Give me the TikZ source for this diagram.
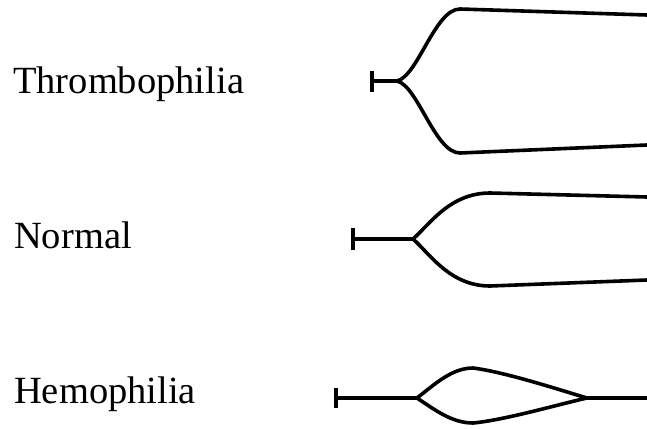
\documentclass[tikz,border=0pt]{standalone}
\usepackage{fontspec}
\setmainfont{Liberation Serif}
\begin{document}
\begin{tikzpicture}[x=1pt,y=-1pt,
  lbl/.style={anchor=base west,inner sep=0pt,font=\fontsize{38.5}{40}\selectfont},
  vessel/.style={line width=3.6pt,line cap=round,line join=round},
  tbar/.style={line width=4.5pt}]
\useasboundingbox (0,0) rectangle (647,428);
% labels
\node[lbl] (t) at (13,93) {Thrombophilia};
\node[lbl] (n) at (14,248) {Normal};
\node[lbl] (h) at (14,403) {Hemophilia};
% Thrombophilia
\coordinate (t0) at (372,81);
\coordinate (ts) at (397,81);
\draw[tbar] (372,71) -- (372,92);
\draw[vessel] (t0) -- (ts);
\draw[vessel] (ts) .. controls (418,76) and (435,9) .. (460,9) -- (647,15);
\draw[vessel] (ts) .. controls (418,86) and (435,153) .. (460,153) -- (647,145);
% Normal
\coordinate (n0) at (353,239);
\coordinate (ns) at (413,239);
\draw[tbar] (353,228) -- (353,250);
\draw[vessel] (n0) -- (ns);
\draw[vessel] (ns) .. controls (430,224) and (450,193) .. (490,193) -- (647,197);
\draw[vessel] (ns) .. controls (430,254) and (450,286) .. (490,286) -- (647,280);
% Hemophilia
\coordinate (h0) at (336,398);
\coordinate (hs) at (417,398);
\coordinate (hc) at (587,398);
\coordinate (he) at (647,398);
\draw[tbar] (336,388) -- (336,408);
\draw[vessel] (h0) -- (hs);
\draw[vessel] (hs) .. controls (435,384) and (452,368) .. (473,368) .. controls (505,372) and (560,390) .. (hc);
\draw[vessel] (hs) .. controls (435,410) and (452,423) .. (473,423) .. controls (505,420) and (560,404) .. (hc);
\draw[line width=4.6pt] (hc) -- (he);
\end{tikzpicture}
\end{document}
